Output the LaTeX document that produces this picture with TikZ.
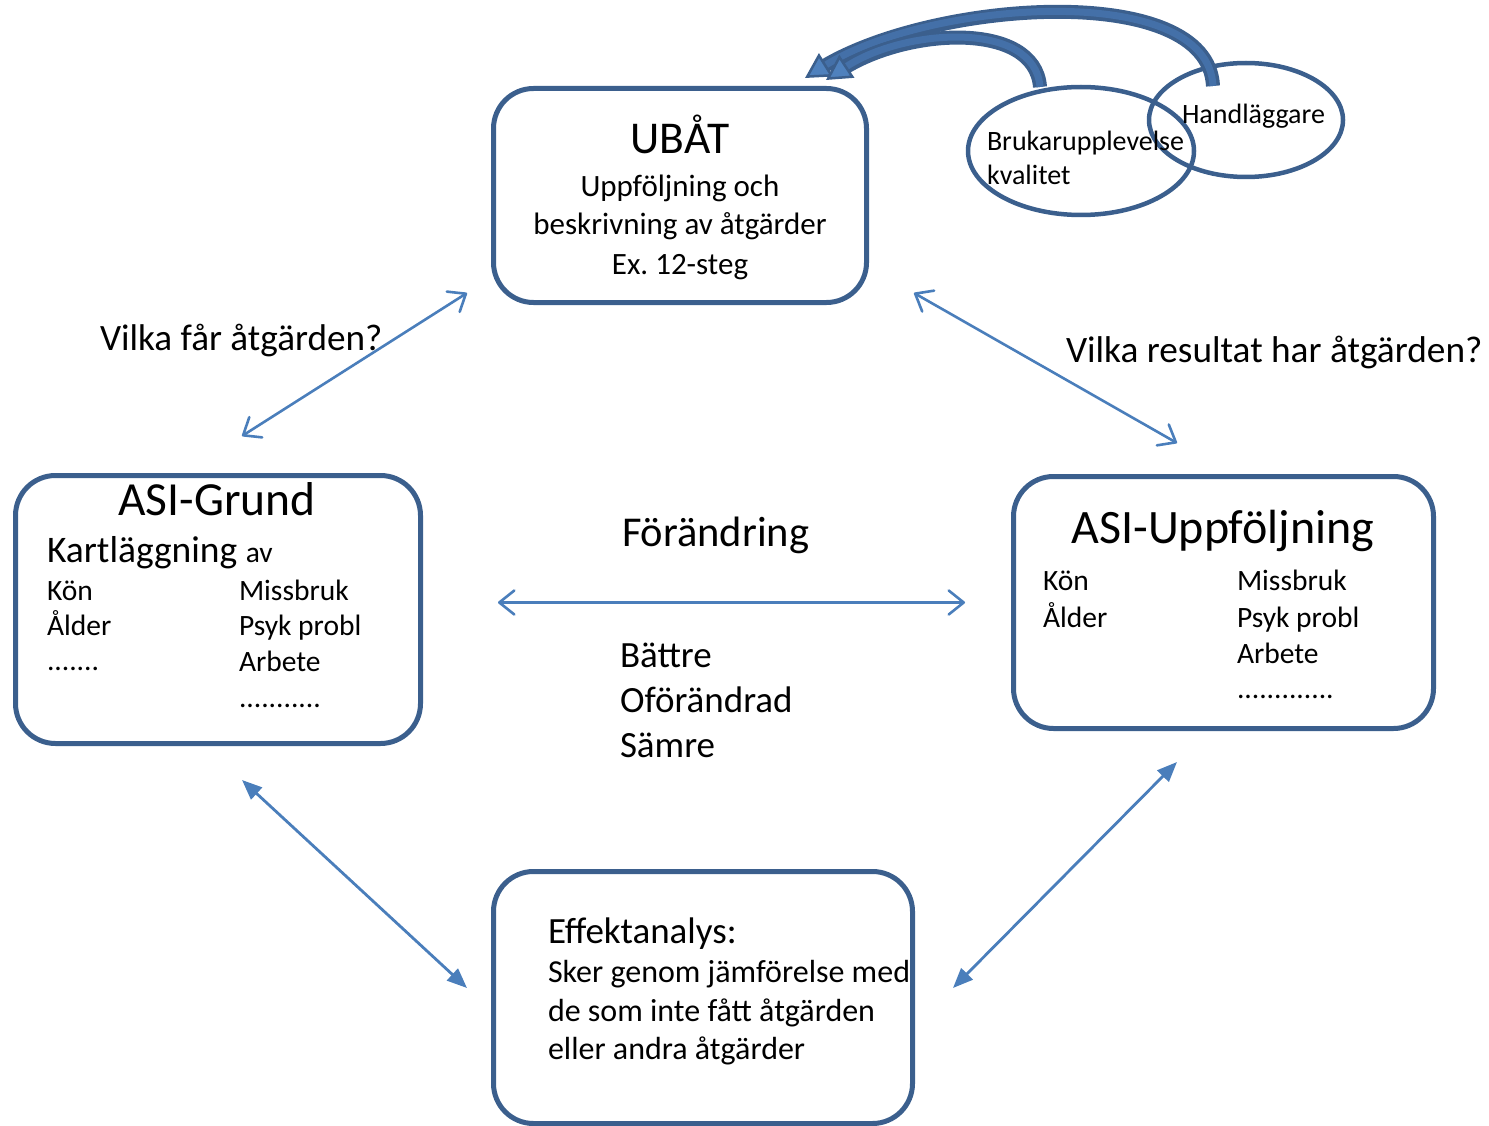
\documentclass[tikz,border=0pt]{standalone}
\usepackage{fontspec}
\setmainfont{Carlito}
\usetikzlibrary{arrows.meta,shapes.geometric}
\definecolor{boxblue}{HTML}{3B5F8D}
\definecolor{lineblue}{HTML}{4A7EBB}
\definecolor{fillblue}{HTML}{4F81BD}
\definecolor{bandblue}{HTML}{4470A8}
\newcommand{\fsz}[1]{\fontsize{#1}{#1}\selectfont}
\begin{document}
\begin{tikzpicture}[x=1pt,y=-1pt,
  box/.style={draw=boxblue,line width=5pt,rounded corners=40pt,anchor=north west,inner sep=0pt,outer sep=0pt},
  oval/.style={draw=boxblue,line width=4.5pt,ellipse,inner sep=0pt,outer sep=0pt},
  lbl/.style={anchor=base west,inner sep=0pt,outer sep=0pt},
  clbl/.style={anchor=base,inner sep=0pt,outer sep=0pt},
  openarr/.style={lineblue,line width=2.6pt,
    {Straight Barb[length=15pt,width=24pt,round]}-{Straight Barb[length=15pt,width=24pt,round]}},
  solidarr/.style={lineblue,line width=2.8pt,
    {Triangle[length=20pt,width=16pt]}-{Triangle[length=20pt,width=16pt]}},
  bandout/.style={boxblue,line width=14pt,shorten >=18pt},
  bandin/.style={bandblue,line width=7pt,
    -{Triangle[length=25pt,width=27pt,color=boxblue,fill=fillblue,line width=2.5pt]}}
]
\useasboundingbox (0,0) rectangle (1489,1126);
\clip (0,0) rectangle (1489,1126);

% boxes
\node[box,minimum width=373pt,minimum height=214pt] (ubat) at (493.5,88.5) {};
\node[box,minimum width=405pt,minimum height=268pt] (grund) at (15.5,475.5) {};
\node[box,minimum width=420pt,minimum height=252pt] (uppf) at (1013.5,476.5) {};
\node[box,minimum width=419pt,minimum height=252pt] (effekt) at (493.5,871.5) {};

% ellipses
\node[oval,minimum width=226pt,minimum height=128pt] (bruk) at (1081,151) {};
\node[oval,minimum width=194pt,minimum height=114pt] (handl) at (1246,120) {};

% UBAT text
\node[clbl,font=\fsz{45.5}] (t1) at (680,154) {UBÅT};
\node[clbl,font=\fsz{31}] (t2) at (680,197) {Uppföljning och};
\node[clbl,font=\fsz{31}] (t3) at (680,235) {beskrivning av åtgärder};
\node[clbl,font=\fsz{31}] (t4) at (680,274) {Ex.\ 12-steg};

% questions
\node[lbl,font=\fsz{37.2}] (q1) at (100,350) {Vilka får åtgärden?};
\node[lbl,font=\fsz{37.3}] (q2) at (1066,362) {Vilka resultat har åtgärden?};

% ASI-Grund text
\node[clbl,font=\fsz{47.5}] (g1) at (217,515) {ASI-Grund};
\node[lbl,font=\fsz{37.5}] (g2) at (47,562) {Kartläggning {\fsz{29.5}av}};
\node[lbl,font=\fsz{29.5}] (g3) at (47,600) {Kön};
\node[lbl,font=\fsz{29.5}] (g4) at (47,635) {Ålder};
\node[lbl,font=\fsz{29.5}] (g5) at (47,670) {.......};
\node[lbl,font=\fsz{29.5}] (g6) at (239,600) {Missbruk};
\node[lbl,font=\fsz{29.5}] (g7) at (239,635) {Psyk probl};
\node[lbl,font=\fsz{29.5}] (g8) at (239,671) {Arbete};
\node[lbl,font=\fsz{29.5}] (g9) at (239,707) {...........};

% ASI-Uppfoljning text
\node[clbl,font=\fsz{48}] (u1) at (1223,543) {ASI-Uppföljning};
\node[lbl,font=\fsz{29.5}] (u2) at (1043,590) {Kön};
\node[lbl,font=\fsz{29.5}] (u3) at (1043,627) {Ålder};
\node[lbl,font=\fsz{29.5}] (u4) at (1237,590) {Missbruk};
\node[lbl,font=\fsz{29.5}] (u5) at (1237,627) {Psyk probl};
\node[lbl,font=\fsz{29.5}] (u6) at (1237,663) {Arbete};
\node[lbl,font=\fsz{29.5}] (u7) at (1237,698) {.............};

% centre text
\node[lbl,font=\fsz{42.5}] (f1) at (622,546) {Förändring};
\node[lbl,font=\fsz{37}] (f2) at (620,667) {Bättre};
\node[lbl,font=\fsz{37}] (f3) at (620,712) {Oförändrad};
\node[lbl,font=\fsz{37}] (f4) at (620,757) {Sämre};

% Effektanalys text
\node[lbl,font=\fsz{37}] (e1) at (548,943) {Effektanalys:};
\node[lbl,font=\fsz{32}] (e2) at (548,982) {Sker genom jämförelse med};
\node[lbl,font=\fsz{32}] (e3) at (548,1021) {de som inte fått åtgärden};
\node[lbl,font=\fsz{32}] (e4) at (548,1059) {eller andra åtgärder};

% ellipse texts
\node[lbl,font=\fsz{28}] (h1) at (1182,124) {Handläggare};
\node[lbl,font=\fsz{28}] (b1) at (987,151) {Brukarupplevelse};
\node[lbl,font=\fsz{28}] (b2) at (987,185) {kvalitet};

% connector end points
\coordinate (a1) at (242,436);
\coordinate (a2) at (467,293);
\coordinate (b1e) at (914,293);
\coordinate (b2e) at (1177,443);
\coordinate (h1e) at (498,602.5);
\coordinate (h2e) at (965,602.5);
\coordinate (d1) at (242,780);
\coordinate (d2) at (467,988);
\coordinate (r1) at (1177,762);
\coordinate (r2) at (953,988);

\draw[openarr] (a1) -- (a2);
\draw[openarr] (b1e) -- (b2e);
\draw[openarr] (h1e) -- (h2e);
\draw[solidarr] (d1) -- (d2);
\draw[solidarr] (r1) -- (r2);

% curved arrows from ellipses to UBAT
\coordinate (c1s) at (1213,86);
\coordinate (c1e) at (805,78);
\coordinate (c2s) at (1040,87);
\coordinate (c2e) at (826,80);
\draw[bandout] (c1s) .. controls (1208,-20) and (930,0) .. (c1e);
\draw[bandin] (c1s) .. controls (1208,-20) and (930,0) .. (c1e);
\draw[bandout] (c2s) .. controls (1035,20) and (905,28) .. (c2e);
\draw[bandin] (c2s) .. controls (1035,20) and (905,28) .. (c2e);
\end{tikzpicture}
\end{document}
